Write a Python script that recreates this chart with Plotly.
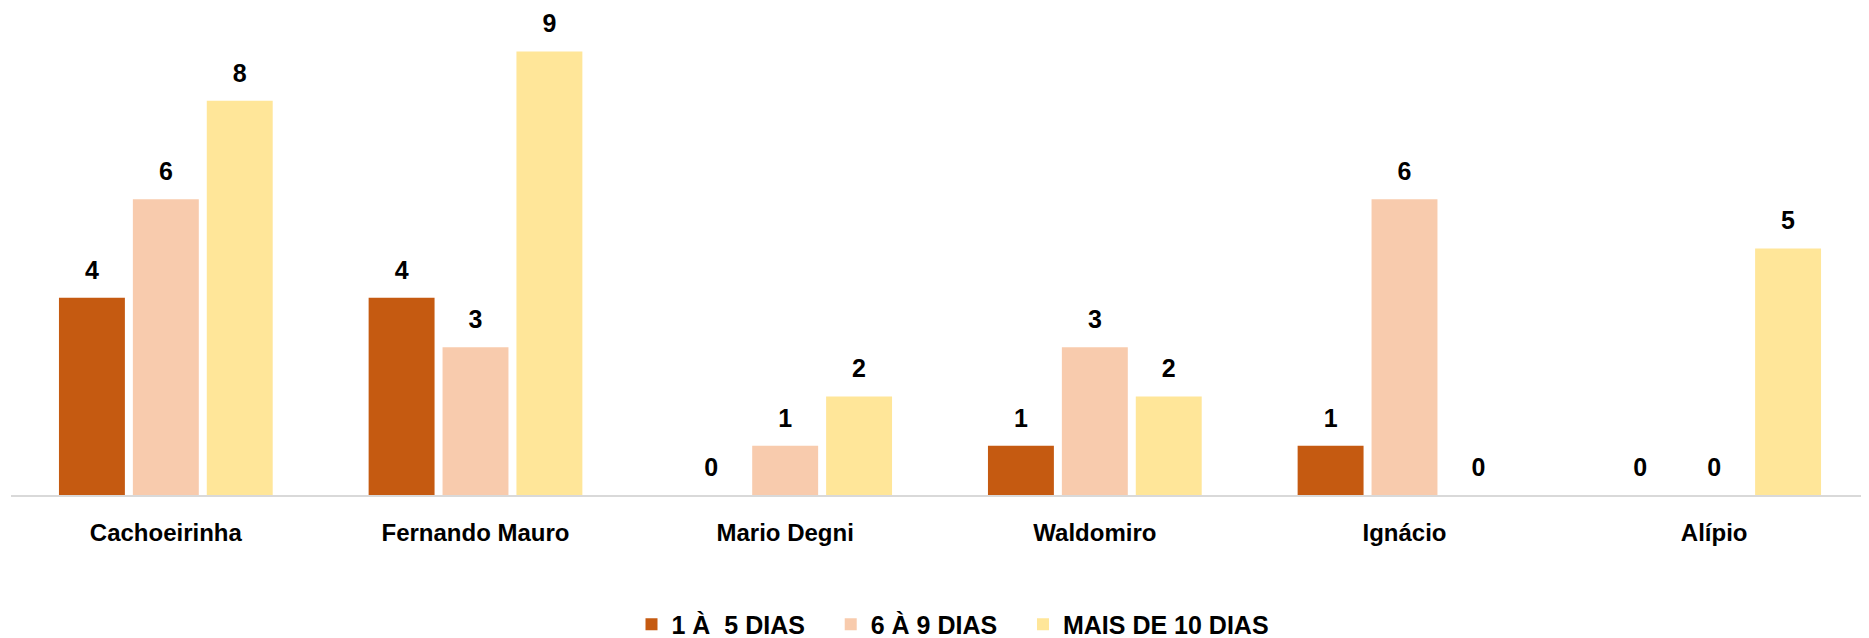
import plotly.graph_objects as go

categories = ["Cachoeirinha", "Fernando Mauro", "Mario Degni", "Waldomiro", "Ignácio", "Alípio"]
series_names = ["1 À\u00a0 5 DIAS", "6 À 9 DIAS", "MAIS DE 10 DIAS"]
dias_1_5 = [4, 4, 0, 1, 1, 0]
dias_6_9 = [6, 3, 1, 3, 6, 0]
dias_10_mais = [8, 9, 2, 2, 0, 5]
colors = ["#C55A11", "#F8CBAD", "#FFE699"]

FONT = "Liberation Sans, Arial, sans-serif"
series = [dias_1_5, dias_6_9, dias_10_mais]
# extra trailing spacing between legend entries (visual only)
legend_pad = ["\u00a0\u00a0\u00a0", "\u00a0\u00a0\u00a0", ""]

fig = go.Figure()
for name, vals, col, pad in zip(series_names, series, colors, legend_pad):
    fig.add_trace(go.Bar(
        x=categories, y=vals, name=name + pad,
        marker=dict(color=col, line=dict(width=0)),
        hoverinfo="skip",
    ))
for name, vals in zip(series_names, series):
    fig.add_trace(go.Scatter(
        x=categories, y=vals, mode="markers+text",
        text=[str(v) for v in vals], textposition="top center",
        textfont=dict(family=FONT, size=25, color="#000000", weight="bold"),
        marker=dict(size=19, color="rgba(0,0,0,0)"),
        showlegend=False, hoverinfo="skip", cliponaxis=False,
    ))

GAP = 0.284
# the page body adds an 8px margin, so the figure is 8px smaller than the window
fig.update_layout(
    width=1861, height=630,
    margin=dict(l=3, r=0, t=0, b=143, autoexpand=False),
    paper_bgcolor="white", plot_bgcolor="white",
    barmode="group", bargap=GAP, bargroupgap=0.108,
    scattermode="group", scattergap=GAP,
    font=dict(family=FONT, color="#000000"),
    showlegend=True,
    legend=dict(
        orientation="h", x=0.507, xanchor="center", y=-0.266, yanchor="middle",
        font=dict(family=FONT, size=25, color="#000000", weight="bold"),
        traceorder="normal",
    ),
    xaxis=dict(
        range=[-0.5, 5.5], autorange=False, automargin=False,
        showline=True, linecolor="#d9d9d9", linewidth=1.5,
        showgrid=False, ticks="", ticklabelstandoff=15,
        tickfont=dict(family=FONT, size=24, color="#000000", weight="bold"),
    ),
    yaxis=dict(
        range=[0, 9.88], showgrid=False, zeroline=False, automargin=False,
        showticklabels=False, showline=False,
    ),
)

fig.write_html("out.html")
